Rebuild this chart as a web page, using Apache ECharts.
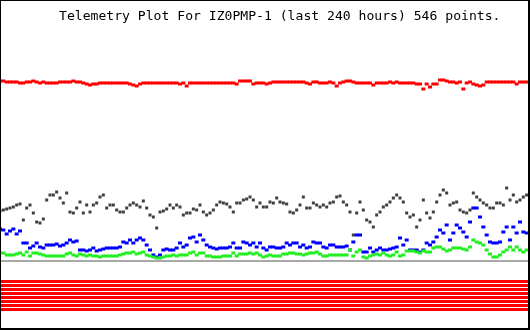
<!DOCTYPE html>
<html>
<head>
<meta charset="utf-8">
<script src="https://cdn.jsdelivr.net/npm/echarts@6/dist/echarts.min.js"></script>
<style>html,body{margin:0;padding:0;background:#fff}#c{width:530px;height:330px}</style>
</head>
<body>
<div id="c"></div>
<script>
// Telemetry values (arbitrary level units, 0 = baseline), sampled evenly over 240 hours
const titleText = 'Telemetry Plot For IZ0PMP-1 (last 240 hours) 546 points.';

const redValues = [
180,180,179,179,179,179,178,178,179,179,
180,179,178,179,178,178,178,178,179,179,
179,179,180,179,179,178,177,176,177,177,
178,178,178,178,178,178,178,178,178,177,
176,175,177,178,178,178,178,178,178,178,
178,178,178,178,177,178,175,178,178,178,
178,178,178,178,178,178,178,178,178,178,
178,177,180,180,180,180,177,178,178,178,
177,178,179,179,179,179,179,179,179,179,
179,179,178,177,179,179,178,178,178,179,
178,175,178,179,180,180,179,178,178,178,
178,178,176,178,178,178,178,179,178,179,
178,178,178,178,178,177,177,172,177,174,
177,177,181,181,180,179,179,178,179,172,
178,179,177,176,175,176,179,179,179,179,
179,179,179,179,179,177,179,179,179
];

const blackValues = [
50,51,52,53,54,56,57,41,53,56,
48,39,38,42,61,66,66,69,63,58,
68,49,48,53,59,48,56,49,56,58,
64,66,53,56,56,51,49,49,53,56,
58,56,54,60,53,46,44,33,49,50,
52,56,53,56,54,
46,48,48,52,51,56,49,46,48,51,
56,59,58,57,54,49,58,58,61,62,
64,61,54,58,54,54,59,58,63,59,
58,57,49,48,51,56,64,53,53,58,
56,54,56,54,58,59,64,65,59,56,
49,26,48,59,
51,41,39,34,46,49,54,56,59,63,
66,63,59,48,44,46,34,41,61,48,
43,49,59,66,71,68,56,58,59,51,
49,48,51,68,64,61,58,56,53,53,
58,58,56,73,61,66,59,61,64,66
];

const blueValues = [
32,31,27,30,32,27,30,18,18,13,
15,18,14,13,16,16,16,17,15,16,
18,21,19,20,11,11,10,11,13,10,
11,12,13,13,13,13,14,19,18,21,
18,21,23,21,16,11,6,4,6,11,
12,11,11,13,18,
14,16,23,24,19,26,21,16,14,13,
12,13,13,13,14,18,13,13,19,18,
16,18,14,18,13,11,14,14,13,13,
14,18,16,18,18,14,16,13,14,19,
18,18,14,13,16,16,14,14,14,15,
11,19,26,26,
9,9,13,9,11,13,11,11,12,13,
14,23,16,21,11,11,11,9,11,18,
16,19,24,31,28,36,21,28,36,33,
29,24,39,53,53,44,34,26,19,18,
18,19,29,34,21,34,28,39,29,28
];

const greenValues = [
8,8,6,6,6,7,8,6,9,5,
8,8,7,6,5,5,5,5,5,5,
7,8,6,5,7,6,5,6,5,5,
4,5,5,5,5,5,6,7,8,8,
9,7,8,9,6,5,4,3,3,4,
5,5,6,5,6,
6,6,8,9,6,8,8,5,5,4,
4,4,5,5,5,8,5,7,7,7,
8,7,8,6,4,5,6,5,5,5,
7,7,8,8,7,7,6,7,8,8,
9,7,5,5,6,6,6,6,6,6,
11,5,9,11,
4,3,5,6,7,6,8,6,5,6,
9,5,6,10,10,10,9,8,10,9,
9,13,14,14,12,10,11,13,13,13,
12,11,14,21,19,18,16,11,7,4,
4,6,9,11,14,11,14,11,9,11
];

// status channel levels (below baseline)
const stripeLevels = [-20.5,-24.5,-28.5,-32.5,-36.5,-40.5,-44.5,-48.5];
const baselineLevel = 0;

const xMax = 159;
const toPairs = arr => arr.map((v, i) => [i, v]);
const flat = v => [[0, v], [xMax, v]];
const chart = echarts.init(document.getElementById('c'), null, {renderer: 'canvas'});

const dot = (name, data, color, size, extra) => Object.assign({
  name, type: 'scatter', data: toPairs(data), symbol: 'rect', symbolSize: size,
  itemStyle: {color, opacity: 1}, silent: true, z: 3
}, extra || {});
const hline = (name, v, color, width, z) => ({
  name, type: 'line', data: flat(v), showSymbol: false, symbol: 'none', silent: true,
  lineStyle: {color, width, type: 'solid'}, z
});

chart.setOption({
  animation: false,
  grid: {left: 0, right: 0, top: 0, bottom: 0},
  xAxis: {type: 'value', min: 0, max: xMax, show: false},
  yAxis: {type: 'value', min: -69, max: 261, show: false},
  series: [
    hline('baseline', baselineLevel, '#a8a8a8', 2, 1),
    ...stripeLevels.map((v, k) => hline('status' + k, v, '#ff0000', 3, 2)),
    {
      name: 'baselineBar', type: 'custom', silent: true, z: 5,
      data: [[0, baselineLevel, xMax]],
      renderItem: (params, api) => {
        const p0 = api.coord([api.value(0), api.value(1)]);
        const p1 = api.coord([api.value(2), api.value(1)]);
        return {type: 'rect', shape: {x: p0[0], y: p0[1] - 1, width: p1[0] - p0[0], height: 2},
                style: {fill: '#a8a8a8'}};
      }
    },
    dot('red', redValues, '#ff0000', [4, 3]),
    dot('black', blackValues, '#404040', [3, 3]),
    dot('blue', blueValues, '#0000ff', [4, 3]),
    dot('green', greenValues, '#22ee22', [4, 3], {
      markLine: {
        silent: true, symbol: ['none', 'none'], animation: false, label: {show: false},
        lineStyle: {color: '#a8a8a8', width: 2, type: 'solid'},
        data: [[{coord: [0, baselineLevel]}, {coord: [xMax, baselineLevel]}]]
      }
    })
  ]
});
chart.setOption({
  graphic: [
    {type: 'text', left: 59, top: 10, z: 10, style: {
      text: titleText, fill: '#000', font: '13.1px "DejaVu Sans Mono", monospace'
    }},
    {type: 'rect', shape: {x: 0, y: 0, width: 530, height: 1}, style: {fill: '#000'}, z: 10},
    {type: 'rect', shape: {x: 0, y: 0, width: 1, height: 330}, style: {fill: '#000'}, z: 10},
    {type: 'rect', shape: {x: 528, y: 0, width: 2, height: 330}, style: {fill: '#000'}, z: 10},
    {type: 'rect', shape: {x: 0, y: 328, width: 530, height: 2}, style: {fill: '#000'}, z: 10}
  ]
});
</script>
</body>
</html>
